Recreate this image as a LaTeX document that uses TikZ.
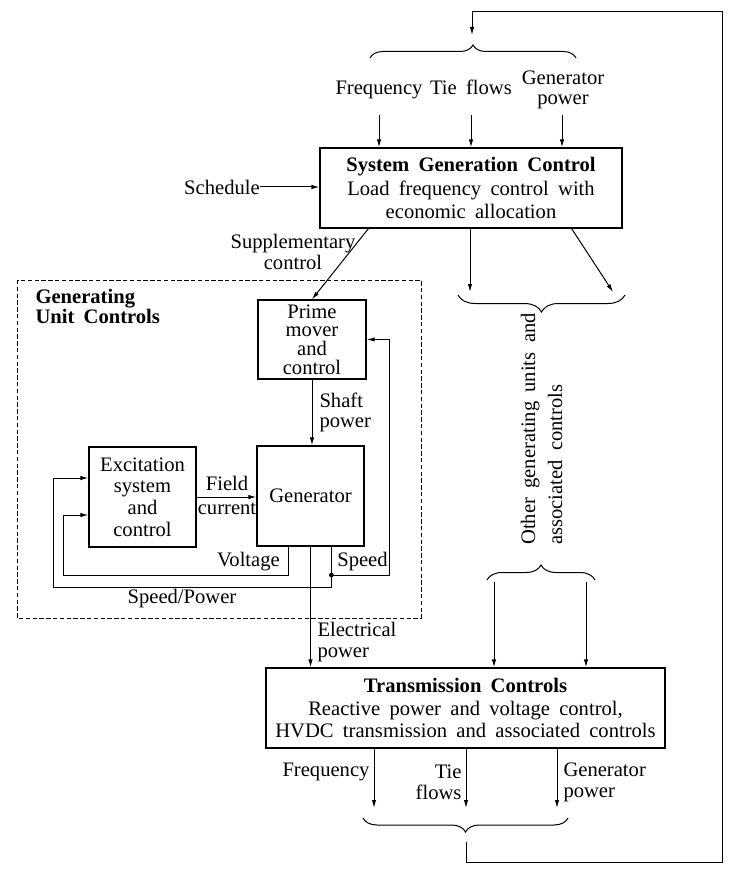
\documentclass[tikz,border=0pt]{standalone}
\usepackage{fontspec}
\setmainfont{Liberation Serif}[WordSpace=1.8]
\usetikzlibrary{arrows.meta,calc,decorations.pathreplacing}
\tikzset{
  txt/.style={inner sep=0pt, align=center, font=\fontsize{10.3}{10.5}\selectfont},
  box/.style={draw, line width=0.6pt, inner sep=0pt, align=center},
  arr/.style={-{Latex[length=4pt,width=2.2pt]}},
  brc/.style={decorate, decoration={brace, amplitude=#1}},
}
\begin{document}
\begin{tikzpicture}[x=0.5pt, y=-0.5pt, line width=0.5pt]
  \useasboundingbox (0,0) rectangle (732,877);
  \draw
    (471,188) node[box, minimum width=151pt, minimum height=40pt,
      font=\fontsize{10.3}{11.8}\selectfont] (sgc)
      {\textbf{System Generation Control}\\Load frequency control with\\economic allocation}
    (465.5,708) node[box, minimum width=199.5pt, minimum height=40pt,
      font=\fontsize{10.3}{11.2}\selectfont] (trc)
      {\textbf{Transmission Controls}\\Reactive power and voltage control,\\HVDC transmission and associated controls}
    (312,339.5) node[box, minimum width=54pt, minimum height=39.5pt,
      font=\fontsize{10.3}{9.3}\selectfont] (pm) {Prime\\mover\\and\\control}
    (310.5,496) node[box, minimum width=53.5pt, minimum height=50pt,
      font=\fontsize{10.3}{10.5}\selectfont] (gen) {Generator}
    (142.5,497) node[box, minimum width=53.5pt, minimum height=50pt,
      font=\fontsize{10.3}{10.8}\selectfont] (exc) {Excitation\\system\\and\\control};
  \draw
    (379,95) node[txt, anchor=base] (freq) {Frequency}
    (471,95) node[txt, anchor=base] (tie) {Tie flows}
    (563,90) node[txt, font=\fontsize{10.3}{10}\selectfont] (genp) {Generator\\power}
    (222,187) node[txt] (sched) {Schedule}
    (293,252) node[txt] (supp) {Supplementary\\control}
    (35,306) node[txt, anchor=west, align=left, font=\bfseries\fontsize{10.3}{10}\selectfont] (guc) {Generating\\Unit Controls}
    (319,412) node[txt, anchor=west, align=left, font=\fontsize{10.3}{10}\selectfont] (shaft) {Shaft\\power}
    (227,495) node[txt, font=\fontsize{10.3}{12}\selectfont] (field) {Field\\current}
    (248.5,562) node[txt] (volt) {Voltage}
    (362.5,562) node[txt] (speed) {Speed}
    (182,599) node[txt] (spow) {Speed/Power}
    (317,642) node[txt, anchor=west, align=left] (elec) {Electrical\\power}
    (326,772) node[txt] (bfreq) {Frequency}
    (462,782) node[txt, anchor=east, align=right] (btie) {Tie\\flows}
    (563,782) node[txt, anchor=west, align=left] (bgen) {Generator\\power}
    (541.5,429) node[txt, rotate=90, align=left, font=\fontsize{10.3}{13.5}\selectfont] (other)
      {Other generating units and\\associated controls};
  \draw[dash pattern=on 2.2pt off 1.2pt] (17,280) rectangle (421,618);
  \coordinate (fin1) at (379,115);
  \coordinate (fin2) at (471,115);
  \coordinate (fin3) at (562,115);
  \coordinate (s0) at ($(sgc.south west)+(49,0)$);
  \coordinate (s1) at ($(sgc.south east)+(-51,0)$);
  \coordinate (o1) at (470,292);
  \coordinate (o2) at (613,292);
  \coordinate (i1) at (494,582);
  \coordinate (i2) at (586,582);
  \coordinate (b1) at (374,808);
  \coordinate (b2) at (466,808);
  \coordinate (b3) at (557,808);
  \coordinate (fb0) at (466,842);
  \coordinate (fb1) at (472,35);
  \coordinate (vt) at ($(gen.south west)+(32,0)$);
  \coordinate (sp) at ($(gen.south west)+(75,0)$);
  \coordinate (dot) at (sp |- 0,575);
  \begin{scope}[arr]
    \draw (fin1) -- (fin1 |- sgc.north);
    \draw (fin2) -- (fin2 |- sgc.north);
    \draw (fin3) -- (fin3 |- sgc.north);
    \draw (sched) -- (sched -| sgc.west);
    \draw (s0) -- (pm.north);
    \draw (o1 |- sgc.south) -- (o1);
    \draw (s1) -- (o2);
    \draw (i1) -- (i1 |- trc.north);
    \draw (i2) -- (i2 |- trc.north);
    \draw (b1 |- trc.south) -- (b1);
    \draw (b2 |- trc.south) -- (b2);
    \draw (b3 |- trc.south) -- (b3);
    \draw (fb0) |- (722,862) -- (722,12) -| (fb1);
    \draw (pm.south) -- (pm.south |- gen.north);
    \draw (exc.east) -- (exc.east -| gen.west);
    \draw (vt) |- (63,575) |- ($(exc.west)+(0,18)$);
    \draw (sp) |- (53,587) |- ($(exc.west)+(0,-19)$);
    \draw (dot) -| ($(pm.east)+(23,0)$) -- (pm.east);
    \draw (gen.south) -- (gen.south |- trc.north);
  \end{scope}
  \fill (dot) circle (1.2pt);
  \draw[brc=6.5pt] (370,58) -- (576,58);
  \draw[brc=8.5pt] (625,295) -- (458,295);
  \draw[brc=7.5pt] (487,580) -- (595,580);
  \draw[brc=7pt] (568,818) -- (363,818);
\end{tikzpicture}
\end{document}
